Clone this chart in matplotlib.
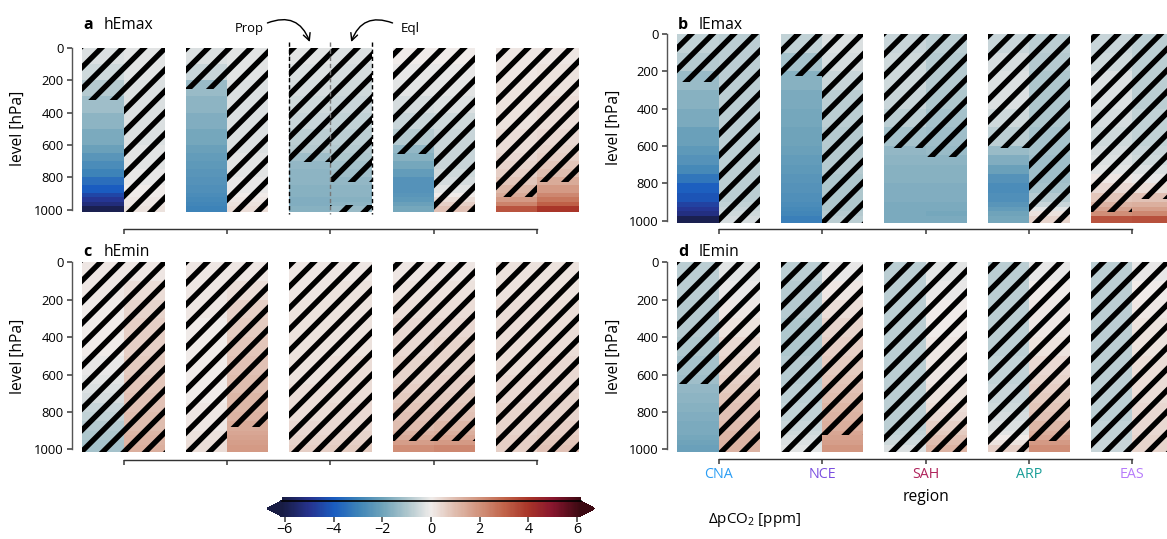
import numpy as np
import matplotlib
matplotlib.use("Agg")
import matplotlib.pyplot as plt
from matplotlib.colors import LinearSegmentedColormap, Normalize
from matplotlib.cm import ScalarMappable
from matplotlib import transforms as mtransforms

W, H, DPI = 1167, 539, 128

plt.rcParams['font.family'] = ['Open Sans', 'DejaVu Sans']
plt.rcParams['mathtext.fontset'] = 'custom'
plt.rcParams['mathtext.rm'] = 'Open Sans'
plt.rcParams['hatch.linewidth'] = 3.0

# regions and their label colours
regions = ['CNA', 'NCE', 'SAH', 'ARP', 'EAS']
region_colors = ['#2a9df4', '#7b4fe0', '#b0245c', '#1a9e98', '#b77cfb']

# pressure-level cell edges [hPa], top of atmosphere -> surface
level_edges = [0, 100, 200, 300, 400, 500, 600, 650, 700, 750, 800, 850, 900, 925, 950, 975, 1012.5]

# dpCO2 [ppm] per region, one value per level cell (top -> surface)
hEmax_prop = [
    [-0.3, -0.5, -0.9, -1.2, -1.5, -1.8, -2.1, -2.4, -2.7, -3.0, -3.5, -4.0, -4.5, -4.9, -5.3, -5.9],
    [-0.3, -0.6, -1.3, -1.5, -1.7, -1.9, -2.1, -2.2, -2.3, -2.4, -2.5, -2.6, -2.7, -2.8, -2.9, -3.0],
    [-0.2, -0.3, -0.4, -0.5, -0.6, -0.8, -0.9, -1.2, -1.4, -1.5, -1.5, -1.6, -1.6, -1.7, -1.7, -1.6],
    [0.0, -0.1, -0.2, -0.4, -0.6, -0.9, -1.4, -1.6, -1.9, -2.2, -2.5, -2.5, -2.4, -2.3, -2.1, -1.9],
    [0.1, 0.1, 0.2, 0.2, 0.2, 0.3, 0.3, 0.4, 0.5, 0.6, 0.8, 1.1, 1.4, 1.8, 2.3, 3.3],
]
hEmax_eql = [
    [-0.2, -0.2, -0.3, -0.3, -0.3, -0.3, -0.2, -0.2, -0.2, -0.1, -0.1, 0.0, 0.0, 0.1, 0.1, 0.2],
    [-0.2, -0.2, -0.3, -0.3, -0.3, -0.3, -0.3, -0.2, -0.2, -0.2, -0.1, -0.1, 0.0, 0.1, 0.2, 0.3],
    [-0.3, -0.4, -0.5, -0.6, -0.7, -0.8, -0.9, -1.0, -1.1, -1.2, -1.4, -1.5, -1.5, -1.6, -1.5, -1.3],
    [0.0, -0.1, -0.2, -0.3, -0.5, -0.6, -0.6, -0.6, -0.6, -0.5, -0.4, -0.2, 0.0, 0.3, 0.6, 0.9],
    [0.1, 0.2, 0.2, 0.3, 0.3, 0.4, 0.5, 0.6, 0.8, 1.0, 1.4, 1.8, 2.2, 2.6, 3.1, 4.0],
]
lEmax_prop = [
    [-0.7, -0.9, -1.3, -1.6, -1.8, -2.1, -2.3, -2.5, -2.8, -3.3, -3.9, -4.2, -4.6, -4.9, -5.2, -5.9],
    [-0.7, -1.1, -1.6, -1.8, -1.9, -2.0, -2.1, -2.2, -2.3, -2.4, -2.5, -2.6, -2.7, -2.8, -2.9, -3.1],
    [-0.6, -0.5, -0.5, -0.6, -0.8, -1.1, -1.4, -1.5, -1.6, -1.6, -1.7, -1.7, -1.8, -1.8, -1.8, -1.8],
    [-0.6, -0.4, -0.3, -0.3, -0.5, -0.8, -1.3, -1.7, -2.1, -2.5, -2.7, -2.6, -2.4, -2.2, -2.0, -1.9],
    [-0.6, -0.5, -0.3, -0.3, -0.4, -0.5, -0.4, -0.3, -0.2, 0.1, 0.4, 0.8, 1.2, 1.6, 2.1, 3.3],
]
lEmax_eql = [
    [-0.8, -0.8, -0.8, -0.8, -0.8, -0.8, -0.8, -0.8, -0.8, -0.8, -0.8, -0.8, -0.7, -0.6, -0.5, -0.4],
    [-0.3, -0.4, -0.6, -0.8, -0.8, -0.9, -0.9, -0.9, -0.9, -1.0, -1.0, -1.0, -1.0, -1.0, -0.9, -0.8],
    [-0.8, -0.9, -0.9, -1.0, -1.1, -1.2, -1.3, -1.5, -1.6, -1.6, -1.7, -1.7, -1.8, -1.8, -1.9, -1.8],
    [-0.8, -0.9, -1.0, -1.0, -1.0, -1.1, -1.1, -1.2, -1.2, -1.2, -1.1, -0.9, -0.6, -0.2, 0.2, 0.5],
    [-0.8, -0.8, -0.8, -0.8, -0.7, -0.7, -0.6, -0.5, -0.3, -0.1, 0.3, 0.9, 1.3, 1.7, 2.2, 3.4],
]
hEmin_prop = [
    [0.1, 0.1, 0.0, 0.0, 0.0, -0.1, -0.2, -0.3, -0.4, -0.6, -0.7, -0.9, -1.0, -1.0, -1.1, -1.1],
    [0.1, 0.1, 0.1, 0.0, 0.0, 0.0, 0.0, 0.0, 0.0, 0.1, 0.1, 0.1, 0.2, 0.2, 0.3, 0.3],
    [0.1, 0.1, 0.2, 0.2, 0.2, 0.2, 0.2, 0.3, 0.3, 0.3, 0.3, 0.4, 0.4, 0.5, 0.5, 0.6],
    [0.1, 0.2, 0.3, 0.4, 0.4, 0.5, 0.5, 0.6, 0.7, 0.8, 0.9, 1.0, 1.2, 1.4, 1.7, 2.1],
    [0.2, 0.2, 0.3, 0.3, 0.3, 0.3, 0.4, 0.4, 0.4, 0.5, 0.5, 0.5, 0.5, 0.6, 0.6, 0.6],
]
hEmin_eql = [
    [0.1, 0.3, 0.5, 0.6, 0.6, 0.7, 0.8, 0.8, 0.9, 0.9, 1.0, 1.0, 1.1, 1.2, 1.2, 1.3],
    [0.1, 0.3, 0.6, 0.7, 0.8, 0.9, 1.0, 1.0, 1.1, 1.1, 1.2, 1.4, 1.5, 1.6, 1.7, 1.8],
    [0.1, 0.2, 0.2, 0.2, 0.2, 0.3, 0.3, 0.3, 0.3, 0.4, 0.4, 0.4, 0.5, 0.5, 0.6, 0.7],
    [0.1, 0.2, 0.3, 0.4, 0.5, 0.5, 0.6, 0.6, 0.7, 0.8, 0.9, 1.1, 1.3, 1.5, 1.8, 2.2],
    [0.2, 0.2, 0.3, 0.3, 0.3, 0.4, 0.4, 0.4, 0.5, 0.5, 0.5, 0.6, 0.6, 0.7, 0.8, 0.9],
]
lEmin_prop = [
    [-0.8, -0.8, -0.9, -0.9, -1.0, -1.1, -1.2, -1.4, -1.5, -1.6, -1.7, -1.8, -1.8, -1.9, -2.0, -2.1],
    [-0.8, -0.9, -0.9, -1.0, -1.0, -0.9, -0.9, -0.8, -0.8, -0.7, -0.7, -0.6, -0.5, -0.4, -0.3, -0.2],
    [-0.8, -0.8, -0.8, -0.8, -0.8, -0.8, -0.8, -0.8, -0.8, -0.8, -0.8, -0.8, -0.7, -0.6, -0.5, -0.3],
    [-0.8, -0.8, -0.8, -0.8, -0.8, -0.7, -0.7, -0.6, -0.6, -0.5, -0.4, -0.3, -0.2, 0.0, 0.2, 0.6],
    [-0.8, -0.8, -0.8, -0.8, -0.8, -0.8, -0.8, -0.8, -0.8, -0.8, -0.8, -0.7, -0.7, -0.7, -0.6, -0.6],
]
lEmin_eql = [
    [-0.2, -0.1, 0.1, 0.2, 0.4, 0.5, 0.6, 0.7, 0.8, 0.9, 0.9, 1.0, 1.1, 1.1, 1.2, 1.2],
    [-0.1, 0.1, 0.3, 0.5, 0.6, 0.7, 0.8, 0.9, 1.0, 1.1, 1.2, 1.3, 1.5, 1.6, 1.7, 1.9],
    [-0.2, -0.1, 0.0, 0.0, 0.1, 0.1, 0.1, 0.2, 0.2, 0.3, 0.4, 0.6, 0.7, 0.9, 1.0, 1.2],
    [-0.1, 0.0, 0.1, 0.1, 0.2, 0.4, 0.5, 0.6, 0.7, 0.8, 0.9, 1.1, 1.3, 1.5, 1.8, 2.1],
    [-0.1, 0.0, 0.1, 0.2, 0.2, 0.3, 0.3, 0.3, 0.3, 0.4, 0.4, 0.4, 0.4, 0.5, 0.5, 0.5],
]

# pressure range [hPa] where the change is significant; None = nowhere
hEmax_sig_prop = [(320, 1012.5), (255, 1012.5), (705, 1012.5), (655, 1012.5), (920, 1012.5)]
hEmax_sig_eql = [None, None, (830, 972), None, (832, 1012.5)]
lEmax_sig_prop = [(255, 1012.5), (225, 1012.5), (612, 1012.5), (612, 1012.5), (955, 1012.5)]
lEmax_sig_eql = [None, None, (657, 1012.5), None, (884, 1012.5)]
hEmin_sig_prop = [None, None, None, (955, 1012.5), None]
hEmin_sig_eql = [None, (880, 1012.5), None, (955, 1012.5), None]
lEmin_sig_prop = [(653, 1012.5), None, None, None, None]
lEmin_sig_eql = [None, (924, 1012.5), None, (954, 1012.5), None]

# diverging colour map, blue (negative) -> grey -> red (positive)
vlim = 6.12
cmap_nodes = [(-6.12, '#181c43'), (-5, '#26338f'), (-4, '#1a5cc0'), (-3, '#3d83b8'),
              (-2, '#6ea3ba'), (-1, '#adc6cd'), (0, '#f0ecea'), (1, '#dfbcae'),
              (2, '#d1927b'), (3, '#c1644a'), (4, '#a93529'), (5, '#88162e'), (6.12, '#3c0912')]
cmap = LinearSegmentedColormap.from_list(
    'balance', [((v + vlim) / (2 * vlim), c) for v, c in cmap_nodes], N=256)
norm = Normalize(-vlim, vlim)


def px_rect(left, top, width, bottom):
    return [left / W, 1 - bottom / H, width / W, (bottom - top) / H]


def draw_panel(ax, prop, eql, sig_prop, sig_eql, ybottom):
    top, bot = level_edges[0], level_edges[-1]
    for i in range(len(regions)):
        for vals, sig, x0 in ((prop[i], sig_prop[i], i - 0.4), (eql[i], sig_eql[i], i)):
            ax.pcolormesh([x0, x0 + 0.4], level_edges, np.array(vals)[:, None],
                          cmap=cmap, norm=norm, antialiased=False, linewidth=0)
            spans = [(top, bot)] if sig is None else [(top, sig[0]), (sig[1], bot)]
            for s0, s1 in spans:
                if s1 > s0:
                    ax.bar(x0, s1 - s0, bottom=s0, width=0.4, align='edge', fill=False,
                           hatch='//', edgecolor='k', linewidth=0)
    ax.set_xlim(-0.5, 4.5)
    ax.set_ylim(ybottom, 0)
    for s in ('top', 'right'):
        ax.spines[s].set_visible(False)
    ax.spines['left'].set_bounds(0, 1000)
    ax.spines['bottom'].set_bounds(0, 4)
    ax.spines['left'].set_color('#555555')
    ax.spines['bottom'].set_color('#333333')
    ax.set_yticks(range(0, 1001, 200))
    ax.set_xticks(range(len(regions)))
    ax.tick_params(axis='y', length=2.8, width=1, color='#555555', labelsize=7.3, pad=2)
    ax.tick_params(axis='x', length=2.8, width=1, color='#555555', labelsize=8, pad=2,
                   labelbottom=False)
    ax.set_facecolor('none')


fig = plt.figure(figsize=(W / DPI, H / DPI), dpi=DPI)

panels = [
    ('a', 'hEmax', hEmax_prop, hEmax_eql, hEmax_sig_prop, hEmax_sig_eql, (72, 48, 517, 229), 1120),
    ('b', 'lEmax', lEmax_prop, lEmax_eql, lEmax_sig_prop, lEmax_sig_eql, (667, 34, 517, 229.3), 1046),
    ('c', 'hEmin', hEmin_prop, hEmin_eql, hEmin_sig_prop, hEmin_sig_eql, (72, 262.3, 517, 459.5), 1054),
    ('d', 'lEmin', lEmin_prop, lEmin_eql, lEmin_sig_prop, lEmin_sig_eql, (667, 262.3, 517, 458.5), 1049),
]
title_pos = {'a': (83, 29), 'b': (678, 29), 'c': (83, 256), 'd': (678, 256)}

axes = {}
for letter, name, prop, eql, sp, se, rect, ybot in panels:
    ax = fig.add_axes(px_rect(*rect))
    draw_panel(ax, prop, eql, sp, se, ybot)
    axes[letter] = ax
    tx, ty = title_pos[letter]
    fig.text(tx / W, 1 - ty / H, letter, fontsize=9, fontweight='bold', va='baseline')
    fig.text((tx + 21) / W, 1 - ty / H, name, fontsize=8.8, va='baseline')
    ax.set_ylabel('level [hPa]', fontsize=8.8)
    lab_x = (26 if rect[0] < 300 else 622) / W
    ax.yaxis.set_label_coords(lab_x, 500,
                              transform=mtransforms.blended_transform_factory(fig.transFigure, ax.transData))

# region names on the bottom-right panel
axd = axes['d']
axd.tick_params(axis='x', labelbottom=True)
axd.set_xticklabels(regions)
for lab, col in zip(axd.get_xticklabels(), region_colors):
    lab.set_color(col)
fig.text(925.5 / W, 1 - 497 / H, 'region', fontsize=8.8, ha='center', va='center')

# Prop / Eql markers around the SAH column of panel a
axa = axes['a']
for x, col in ((1.6, 'k'), (2.0, '#777777'), (2.4, 'k')):
    axa.plot([x, x], [-35, 1025], color=col, lw=0.8, ls=(0, (3, 2)), clip_on=False, zorder=3)
axa.text(1.21, -118, 'Prop', fontsize=7.3, ha='center', va='center')
axa.text(2.77, -118, 'Eql', fontsize=7.5, ha='center', va='center')
axa.annotate('', xy=(1.8, -37), xytext=(1.39, -155), annotation_clip=False,
             arrowprops=dict(arrowstyle='->', color='k', lw=0.8, shrinkA=0, shrinkB=0,
                             connectionstyle='arc3,rad=-0.5'))
axa.annotate('', xy=(2.2, -37), xytext=(2.60, -155), annotation_clip=False,
             arrowprops=dict(arrowstyle='->', color='k', lw=0.8, shrinkA=0, shrinkB=0,
                             connectionstyle='arc3,rad=0.5'))

# colour bar
cax = fig.add_axes(px_rect(267, 500.5, 328, 516.5))
cb = fig.colorbar(ScalarMappable(norm=norm, cmap=cmap), cax=cax, orientation='horizontal',
                  extend='both', extendfrac=0.05, ticks=range(-6, 7, 2))
cb.outline.set_visible(False)
cax.tick_params(length=2.8, width=1, color='#555555', labelsize=8, pad=0.5)
strip = fig.add_axes(px_rect(282, 497, 299, 500.7))
strip.imshow(np.linspace(-vlim, vlim, 256)[None, :], cmap=cmap, norm=norm, aspect='auto')
strip.set_xticks([])
strip.set_yticks([])
for s in ('top', 'left', 'right'):
    strip.spines[s].set_visible(False)
strip.spines['bottom'].set_color('k')
strip.spines['bottom'].set_linewidth(0.9)
fig.text(708 / W, 1 - 520 / H, r'$\Delta$pCO$_2$ [ppm]', fontsize=8.5, va='center')

fig.savefig('out.png', dpi=DPI)
